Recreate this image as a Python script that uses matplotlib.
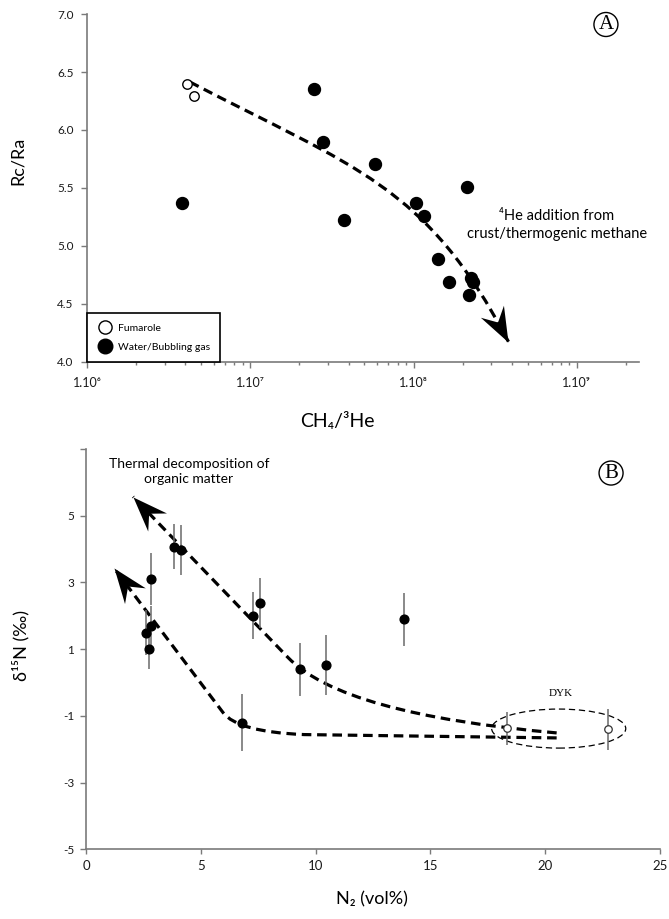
import numpy as np
import matplotlib
matplotlib.use("Agg")
import matplotlib.pyplot as plt
from matplotlib.path import Path
from matplotlib.patches import PathPatch, Ellipse
from matplotlib.markers import MarkerStyle
from matplotlib.transforms import Affine2D
from matplotlib.lines import Line2D
from matplotlib.ticker import LogLocator, FuncFormatter, NullFormatter, FixedLocator

plt.rcParams['font.family'] = ['Lato', 'DejaVu Sans']
SERIF = ['Liberation Serif', 'DejaVu Serif']

# ---- panel A : Rc/Ra vs CH4/3He ----
ch4he_fumarole = [4.07e6, 4.55e6]
rcra_fumarole = [6.40, 6.29]
ch4he_water = [3.84e6, 2.45e7, 2.8e7, 3.75e7, 5.8e7, 1.03e8, 1.16e8,
               2.13e8, 1.41e8, 1.65e8, 2.24e8, 2.30e8, 2.20e8]
rcra_water = [5.37, 6.35, 5.90, 5.22, 5.71, 5.37, 5.26,
              5.51, 4.89, 4.69, 4.72, 4.69, 4.58]

# ---- panel B : d15N vs N2 ----
n2_water = [2.60, 2.74, 2.82, 2.82, 3.85, 4.12, 6.81, 7.26, 7.59, 9.31, 10.46, 13.83]
d15n_water = [1.50, 1.00, 1.70, 3.10, 4.07, 3.97, -1.20, 2.00, 2.37, 0.40, 0.53, 1.89]
d15n_water_err = [0.68, 0.58, 0.60, 0.77, 0.67, 0.76, 0.86, 0.70, 0.75, 0.79, 0.90, 0.80]
n2_dyk = [18.32, 22.75]
d15n_dyk = [-1.37, -1.40]
d15n_dyk_err = [0.50, 0.61]

SUP = str.maketrans("0123456789", "⁰¹²³⁴⁵⁶⁷⁸⁹")
GREY = '#7a7a7a'
DASH = (0, (3, 1.8))

# dart shaped arrow head, tip at the origin
dart = Path([(0, 0), (-2, 0.75), (-1.3, 0), (-2, -0.75), (0, 0)],
            [Path.MOVETO, Path.LINETO, Path.LINETO, Path.LINETO, Path.CLOSEPOLY])


def dashed_arrow(ax, verts, codes, lw=2.3, head=50):
    ax.add_patch(PathPatch(Path(verts, codes), fill=False, ec='black', lw=lw,
                           ls=DASH, capstyle='butt', zorder=2))
    p0, p1 = ax.transData.transform([verts[-2], verts[-1]])
    ang = np.degrees(np.arctan2(p1[1] - p0[1], p1[0] - p0[0]))
    m = MarkerStyle(dart, transform=Affine2D().rotate_deg(ang))
    ax.plot([verts[-1][0]], [verts[-1][1]], marker=m, ms=head, color='black',
            mew=0, zorder=5, clip_on=False)


def style_axes(ax):
    for s in ['top', 'right']:
        ax.spines[s].set_visible(False)
    for s in ['left', 'bottom']:
        ax.spines[s].set_color(GREY)
        ax.spines[s].set_linewidth(1.2)
    ax.tick_params(which='both', color=GREY, width=1.0, labelcolor='#1a1a1a', direction='out')


fig = plt.figure(figsize=(6.69, 9.19), dpi=100)

# =================== A ===================
axA = fig.add_axes([0.1300, 0.6064, 0.8251, 0.3783])
style_axes(axA)
axA.set_xscale('log')
axA.set_xlim(1e6, 2.4e9)
axA.set_ylim(4.0, 7.0)
axA.set_yticks(np.arange(4.0, 7.01, 0.5))
axA.yaxis.set_major_formatter(FuncFormatter(lambda v, p: f"{v:.1f}"))
axA.xaxis.set_major_locator(LogLocator(base=10))
axA.xaxis.set_minor_locator(LogLocator(base=10, subs=np.arange(2, 10)))
axA.xaxis.set_major_formatter(FuncFormatter(lambda v, p: "1.10" + str(int(round(np.log10(v)))).translate(SUP)))
axA.xaxis.set_minor_formatter(NullFormatter())
axA.tick_params(axis='y', length=4.5, pad=5, labelsize=8.5)
axA.tick_params(axis='x', which='major', length=4.5, pad=6.5, labelsize=9)
axA.tick_params(axis='x', which='minor', length=2.2)

axA.plot(ch4he_water, rcra_water, 'o', ms=8.6, mfc='black', mec='black', zorder=4, clip_on=False)
axA.plot(ch4he_fumarole, rcra_fumarole, 'o', ms=6.8, mfc='white', mec='black', mew=1.0, zorder=4)

# trend arrow (display-fitted cubic)
vA = [(4.28e6, 6.413), (4.31e7, 5.677), (1.20e8, 5.525), (3.81e8, 4.173)]
cA = [Path.MOVETO, Path.CURVE4, Path.CURVE4, Path.CURVE4]
dashed_arrow(axA, vA, cA)

axA.text(10 ** 8.878, 5.18, "⁴He addition from\ncrust/thermogenic methane",
         ha='center', va='center', fontsize=10.5, linespacing=1.3)
axA.text(10 ** 9.178, 6.91, "A", family=SERIF, fontsize=15, ha='center', va='center',
         bbox=dict(boxstyle='circle,pad=0.12', fc='white', ec='black', lw=1.0))

handles = [Line2D([], [], ls='none', marker='o', ms=9.5, mfc='white', mec='black', mew=1.0),
           Line2D([], [], ls='none', marker='o', ms=10.5, mfc='black', mec='black')]
leg = axA.legend(handles, ['Fumarole', 'Water/Bubbling gas'], loc='lower left',
                 bbox_to_anchor=(0, 0), borderaxespad=0, fontsize=7.5, frameon=True,
                 fancybox=False, edgecolor='black', framealpha=1, handlelength=1.5,
                 handletextpad=0.5, borderpad=0.95, labelspacing=0.95)
leg.get_frame().set_linewidth(1.2)
leg.set_zorder(6)

axA.set_ylabel("Rc/Ra", fontsize=13)
axA.yaxis.set_label_coords(-0.11, 0.577)
axA.set_xlabel("CH₄/³He", fontsize=14)
axA.xaxis.set_label_coords(0.453, -0.145)

# =================== B ===================
axB = fig.add_axes([0.1285, 0.0758, 0.8580, 0.4356])
style_axes(axB)
axB.set_xlim(0, 25)
axB.set_ylim(-5, 7)
axB.set_xticks(np.arange(0, 26, 5))
axB.yaxis.set_major_locator(FixedLocator(np.arange(-5, 7.1, 2)))
axB.yaxis.set_major_formatter(FuncFormatter(lambda v, p: "" if v > 6 else f"{v:g}"))
axB.tick_params(axis='y', length=4, pad=4.5, labelsize=8.5)
axB.tick_params(axis='x', length=3.5, pad=4.5, labelsize=9.5)

axB.errorbar(n2_water, d15n_water, yerr=d15n_water_err, fmt='none', ecolor='#6a6a6a',
             elinewidth=1.1, capsize=0, zorder=3)
axB.errorbar(n2_dyk, d15n_dyk, yerr=d15n_dyk_err, fmt='none', ecolor='#6a6a6a',
             elinewidth=1.1, capsize=0, zorder=3)
axB.plot(n2_water, d15n_water, 'o', ms=6.3, mfc='black', mec='black', zorder=4)
axB.plot(n2_dyk, d15n_dyk, 'o', ms=5.4, mfc='white', mec='#333333', mew=0.9, zorder=4)

# thermal decomposition trends
vB1 = [(20.5, -1.51), (11.17, -0.95), (8.8, 0.75), (2.05, 5.57)]
cB1 = [Path.MOVETO, Path.CURVE3, Path.CURVE3, Path.LINETO]
dashed_arrow(axB, vB1, cB1)
vB2 = [(20.5, -1.66), (9.5, -1.56), (6.6, -1.48), (5.97, -0.90), (1.23, 3.42)]
cB2 = [Path.MOVETO, Path.LINETO, Path.CURVE3, Path.CURVE3, Path.LINETO]
dashed_arrow(axB, vB2, cB2)

axB.add_patch(Ellipse((20.59, -1.38), 5.84, 1.17, fill=False, ec='black', lw=0.9,
                      ls=(0, (5, 3)), zorder=2))
axB.text(20.69, -0.34, "DYK", family=SERIF, fontsize=8, ha='center', va='center')
axB.text(4.49, 6.34, "Thermal decomposition of\norganic matter", ha='center', va='center',
         fontsize=10, linespacing=1.3)
axB.text(22.87, 6.28, "B", family=SERIF, fontsize=15, ha='center', va='center',
         bbox=dict(boxstyle='circle,pad=0.12', fc='white', ec='black', lw=1.0))

axB.set_ylabel("δ¹⁵N (‰)", fontsize=13)
axB.yaxis.set_label_coords(-0.099, 0.51)
axB.set_xlabel("N₂ (vol%)", fontsize=13)
axB.xaxis.set_label_coords(0.498, -0.105)

fig.savefig("out.png", dpi=100)
